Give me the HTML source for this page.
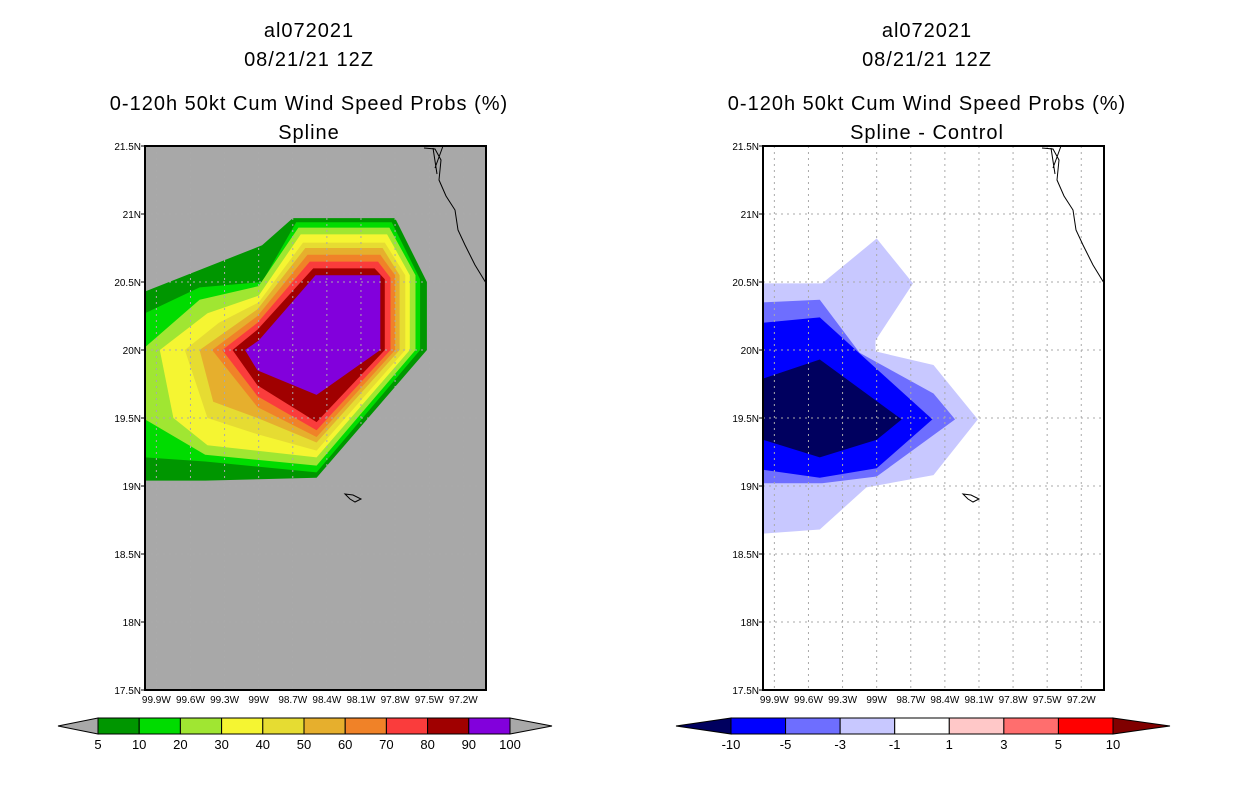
<!DOCTYPE html>
<html><head><meta charset="utf-8"><style>
body{margin:0;background:#fff;}
svg text{font-family:"Liberation Sans",sans-serif;fill:#000;}
</style></head><body>
<svg id="root" width="1236" height="800" xmlns="http://www.w3.org/2000/svg">
<g font-size="20" text-anchor="middle" letter-spacing="1">
<text x="309" y="37">al072021</text><text x="309" y="66">08/21/21 12Z</text>
<text x="309" y="110">0-120h 50kt Cum Wind Speed Probs (%)</text><text x="309" y="139">Spline</text></g>
<g font-size="20" text-anchor="middle" letter-spacing="1">
<text x="927" y="37">al072021</text><text x="927" y="66">08/21/21 12Z</text>
<text x="927" y="110">0-120h 50kt Cum Wind Speed Probs (%)</text><text x="927" y="139">Spline - Control</text></g>
<g id="left"></g>
<g id="right"></g>
<g id="cb1"></g>
<g id="cb2"></g>
</svg>
<script>
const lonTicks=[99.9,99.6,99.3,99.0,98.7,98.4,98.1,97.8,97.5,97.2];
const latTicks=[21.5,21,20.5,20,19.5,19,18.5,18,17.5];
const leftLevels=[5,10,20,30,40,50,60,70,80,90];
const leftColors=["#009600","#00dc00","#a0e632","#f5f532","#e6dc32","#e6af2d","#f08228","#fa3c3c","#a00000","#8200dc"];
const leftPolys=[
[[100,20.43],[98.97,20.77],[98.7,20.97],[97.8,20.97],[97.52,20.5],[97.52,20.0],[98.49,19.06],[99.47,19.04],[100,19.04]],
[[100,20.27],[99.52,20.46],[98.97,20.5],[98.67,20.94],[97.83,20.94],[97.58,20.52],[97.58,20.0],[98.49,19.1],[99.47,19.18],[100,19.21]],
[[100,20.02],[99.52,20.37],[99.0,20.47],[98.65,20.9],[97.85,20.9],[97.62,20.55],[97.62,20.0],[98.49,19.15],[99.47,19.23],[100,19.49]],
[[99.87,20.0],[99.45,20.27],[99.0,20.4],[98.63,20.85],[97.87,20.85],[97.67,20.55],[97.67,20.0],[98.49,19.21],[99.45,19.3],[99.75,19.5]],
[[99.65,20.0],[99.35,20.2],[99.0,20.35],[98.61,20.79],[97.89,20.79],[97.71,20.55],[97.71,20.0],[98.49,19.26],[99.01,19.38],[99.45,19.5]],
[[99.52,20.0],[99.01,20.3],[98.59,20.75],[97.91,20.75],[97.76,20.55],[97.76,20.0],[98.49,19.32],[99.01,19.5],[99.4,19.62]],
[[99.41,20.0],[99.01,20.25],[98.57,20.7],[97.93,20.7],[97.8,20.55],[97.8,20.0],[98.49,19.36],[99.01,19.58]],
[[99.32,20.0],[99.01,20.2],[98.55,20.65],[97.95,20.65],[97.84,20.53],[97.84,20.0],[98.49,19.41],[99.01,19.66]],
[[99.23,20.0],[99.01,20.15],[98.52,20.6],[97.98,20.6],[97.89,20.52],[97.89,20.0],[98.49,19.47],[99.01,19.74]],
[[99.12,20.0],[99.0,20.07],[98.5,20.55],[97.93,20.55],[97.93,20.0],[98.49,19.67],[99.01,19.85]]];
const rightLevels=[-1,-3,-5,-10];
const rightColors=["#c8c8ff","#6e6eff","#0000ff","#00005f"];
const rightPolys=[
[[100,20.49],[99.48,20.49],[99.0,20.82],[98.68,20.49],[99.01,20.07],[99.01,19.99],[98.5,19.89],[98.11,19.49],[98.5,19.08],[99.09,18.99],[99.5,18.68],[100,18.65]],
[[100,20.35],[99.5,20.37],[99.15,19.98],[99.0,19.91],[98.5,19.68],[98.31,19.49],[99.0,19.07],[99.48,19.02],[100,19.02]],
[[100,20.2],[99.5,20.24],[98.51,19.49],[99.0,19.13],[99.5,19.06],[100,19.12]],
[[100,19.79],[99.5,19.93],[98.78,19.49],[99.0,19.34],[99.5,19.21],[100,19.34]]];
const cb1Labels=["5","10","20","30","40","50","60","70","80","90","100"];
const cb2Labels=["-10","-5","-3","-1","1","3","5","10"];
const cb2Colors=["#0000ff","#6e6eff","#c8c8ff","#ffffff","#ffc8c8","#ff6e6e","#ff0000"];
const NS="http://www.w3.org/2000/svg";
function mk(tag,parent){const e=document.createElementNS(NS,tag);parent.appendChild(e);return e;}
function drawMap(g,x0,bg,levels,colors,polys){
  const W=341,H=544,y0=146;
  const X=lon=>x0+(100-lon)/3*W, Y=lat=>y0+(21.5-lat)/4*H;
  const r=mk('rect',g);r.setAttribute('x',x0);r.setAttribute('y',y0);r.setAttribute('width',W);r.setAttribute('height',H);r.setAttribute('fill',bg);
  
  
  polys.forEach((p,i)=>{const pg=mk('polygon',g);
    pg.setAttribute('points',p.map(v=>X(v[0]).toFixed(1)+','+Y(v[1]).toFixed(1)).join(' '));
    pg.setAttribute('fill',colors[i]);
    
    });
  lonTicks.forEach(l=>{const ln=mk('line',g);ln.setAttribute('x1',X(l));ln.setAttribute('x2',X(l));ln.setAttribute('y1',y0);ln.setAttribute('y2',y0+H);
    ln.setAttribute('stroke','#aaa');ln.setAttribute('stroke-dasharray','2,4');
    
    
    const t=mk('text',g);t.setAttribute('x',X(l));t.setAttribute('y',y0+H+13);t.setAttribute('font-size','10');t.setAttribute('text-anchor','middle');t.textContent=l.toFixed(1).replace('.0','')+'W';
    
    });
  latTicks.forEach(l=>{if(l<21.5&&l>17.5){const ln=mk('line',g);ln.setAttribute('x1',x0);ln.setAttribute('x2',x0+W);ln.setAttribute('y1',Y(l));ln.setAttribute('y2',Y(l));
    ln.setAttribute('stroke','#aaa');ln.setAttribute('stroke-dasharray','2,4');
    
    }
    const tk=mk('line',g);tk.setAttribute('x1',x0-4);tk.setAttribute('x2',x0);tk.setAttribute('y1',Y(l));tk.setAttribute('y2',Y(l));tk.setAttribute('stroke','#000');
    const t=mk('text',g);t.setAttribute('x',x0-4);t.setAttribute('y',Y(l)+4);t.setAttribute('font-size','10');t.setAttribute('text-anchor','end');t.textContent=(l%1===0?l.toFixed(0):l.toFixed(1))+'N';
    
    });
  const c=mk('path',g);
  c.setAttribute('d',`M${x0+279},${y0+2} L${x0+290},${y0+3} L${x0+296},${y0+14} L${x0+294},${y0+34} L${x0+301},${y0+50} L${x0+310},${y0+64} L${x0+313},${y0+84} L${x0+320},${y0+99} L${x0+330},${y0+119} L${x0+341},${y0+137} M${x0+288},${y0+2} L${x0+292},${y0+28} M${x0+298},${y0} L${x0+290},${y0+22} M${x0+200},${y0+348} L${x0+208},${y0+349} L${x0+216},${y0+353} L${x0+210},${y0+356} L${x0+205},${y0+353} Z`);
  c.setAttribute('fill','none');c.setAttribute('stroke','#000');c.setAttribute('stroke-width','1');
  
  
  const f=mk('rect',g);f.setAttribute('x',x0);f.setAttribute('y',y0);f.setAttribute('width',W);f.setAttribute('height',H);f.setAttribute('fill','none');f.setAttribute('stroke','#000');f.setAttribute('stroke-width','2');
  
  
}
drawMap(document.getElementById('left'),145,'#a8a8a8',leftLevels,leftColors,leftPolys);
drawMap(document.getElementById('right'),763,'#ffffff',rightLevels,rightColors,rightPolys);
function drawBar(g,x0,x1,tipL,tipR,colors,labels,endColors){
  const n=colors.length,w=(x1-x0)/n,y=718,h=16;
  const a=mk('polygon',g);a.setAttribute('points',`${x0},${y} ${tipL},${y+h/2} ${x0},${y+h}`);a.setAttribute('fill',endColors[0]);a.setAttribute('stroke','#000');
  
  
  const b=mk('polygon',g);b.setAttribute('points',`${x1},${y} ${tipR},${y+h/2} ${x1},${y+h}`);b.setAttribute('fill',endColors[1]);b.setAttribute('stroke','#000');
  
  
  colors.forEach((c,i)=>{const r=mk('rect',g);r.setAttribute('x',x0+i*w);r.setAttribute('y',y);r.setAttribute('width',w);r.setAttribute('height',h);r.setAttribute('fill',c);r.setAttribute('stroke','#000');
    
    });
  labels.forEach((l,i)=>{const t=mk('text',g);t.setAttribute('x',x0+i*w);t.setAttribute('y',y+h+15);t.setAttribute('font-size','13');t.setAttribute('text-anchor','middle');t.textContent=l;
    
    });
}
drawBar(document.getElementById('cb1'),98,510,58,552,leftColors,cb1Labels,['#a8a8a8','#a8a8a8']);
drawBar(document.getElementById('cb2'),731,1113,676,1170,cb2Colors,cb2Labels,['#00005f','#800000']);
</script>
</body></html>
